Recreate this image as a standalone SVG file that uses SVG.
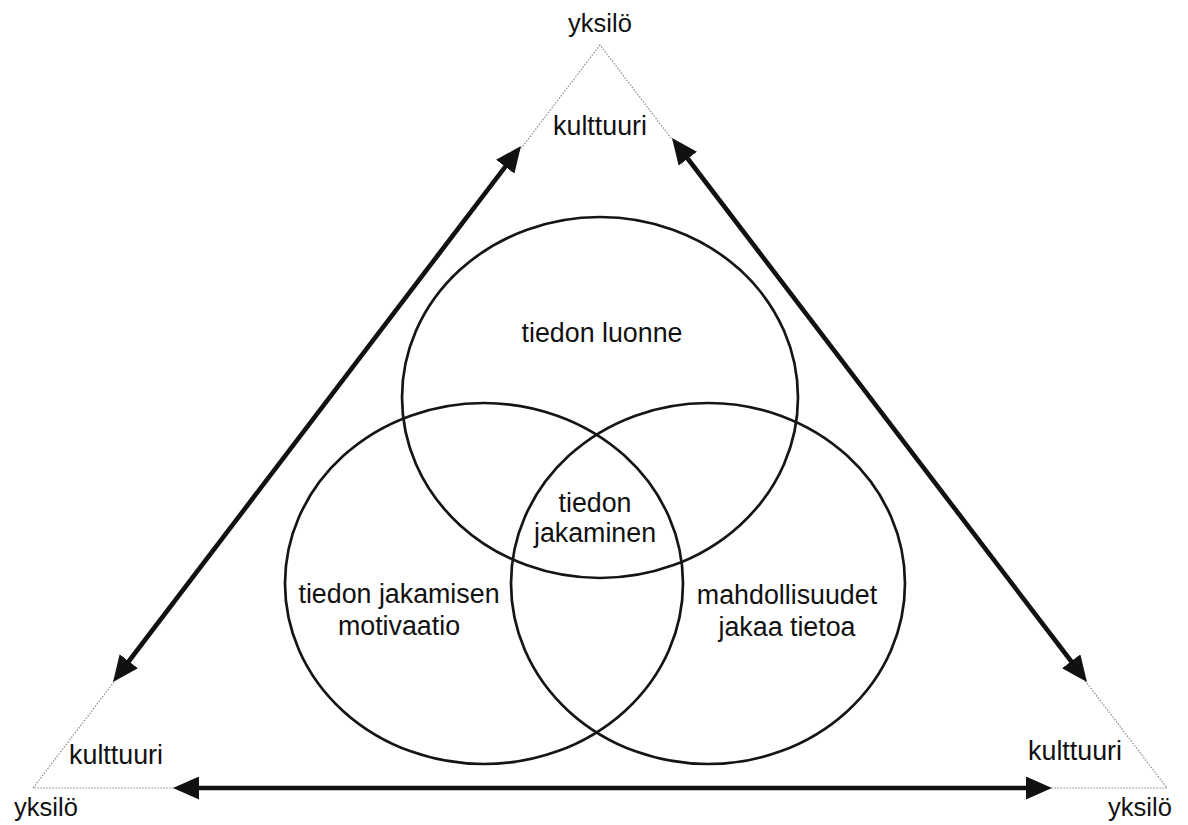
<svg xmlns="http://www.w3.org/2000/svg" width="1188" height="825" viewBox="0 0 1188 825">
  <style>
    .lbl { font-family: "Liberation Sans", Arial, Helvetica, sans-serif; font-size: 26.8px; fill: #111111; text-anchor: middle; }
    .sm { font-size: 25.5px; }
    .circ { fill: none; stroke: #151515; stroke-width: 2.7; }
    .tri { fill: none; stroke: #8a8a8a; stroke-width: 1.2; stroke-dasharray: 1.5 1.5; }
    .arr { fill: none; stroke: #111; stroke-width: 4.6; marker-start: url(#head); marker-end: url(#head); }
  </style>
  <defs>
    <marker id="head" viewBox="0 0 26 23" refX="16" refY="11.5" markerWidth="26" markerHeight="23" markerUnits="userSpaceOnUse" orient="auto-start-reverse">
      <path d="M0,0 L26,11.5 L0,23 z" fill="#111"/>
    </marker>
  </defs>
  <rect width="1188" height="825" fill="#ffffff"/>

  <g id="triangle">
    <polygon class="tri" points="600,45 33,788 1167,788"/>
  </g>

  <g id="connectors">
    <line class="arr" x1="119.1" y1="674" x2="514.9" y2="154"/>
    <line class="arr" x1="678.1" y1="146" x2="1080.9" y2="674"/>
    <line class="arr" x1="183" y1="788" x2="1042" y2="788"/>
  </g>

  <g id="node-top-circle">
    <ellipse class="circ" cx="600" cy="397.5" rx="198" ry="180.5"/>
    <text class="lbl" x="602" y="342">tiedon luonne</text>
  </g>
  <g id="node-left-circle">
    <ellipse class="circ" cx="484" cy="583.5" rx="199" ry="180.5"/>
    <text class="lbl" x="399" y="603">tiedon jakamisen</text>
    <text class="lbl" x="399" y="635">motivaatio</text>
  </g>
  <g id="node-right-circle">
    <ellipse class="circ" cx="708" cy="583.5" rx="197" ry="180.5"/>
    <text class="lbl" x="787" y="604">mahdollisuudet</text>
    <text class="lbl" x="787" y="636">jakaa tietoa</text>
  </g>
  <g id="node-center">
    <text class="lbl" x="595" y="512">tiedon</text>
    <text class="lbl" x="595" y="542">jakaminen</text>
  </g>

  <g id="node-top-vertex">
    <text class="lbl sm" x="600" y="32">yksilö</text>
    <text class="lbl" x="600" y="135">kulttuuri</text>
  </g>
  <g id="node-left-vertex">
    <text class="lbl" x="116" y="764">kulttuuri</text>
    <text class="lbl sm" x="46" y="816">yksilö</text>
  </g>
  <g id="node-right-vertex">
    <text class="lbl" x="1075" y="760">kulttuuri</text>
    <text class="lbl sm" x="1140" y="816">yksilö</text>
  </g>
</svg>
